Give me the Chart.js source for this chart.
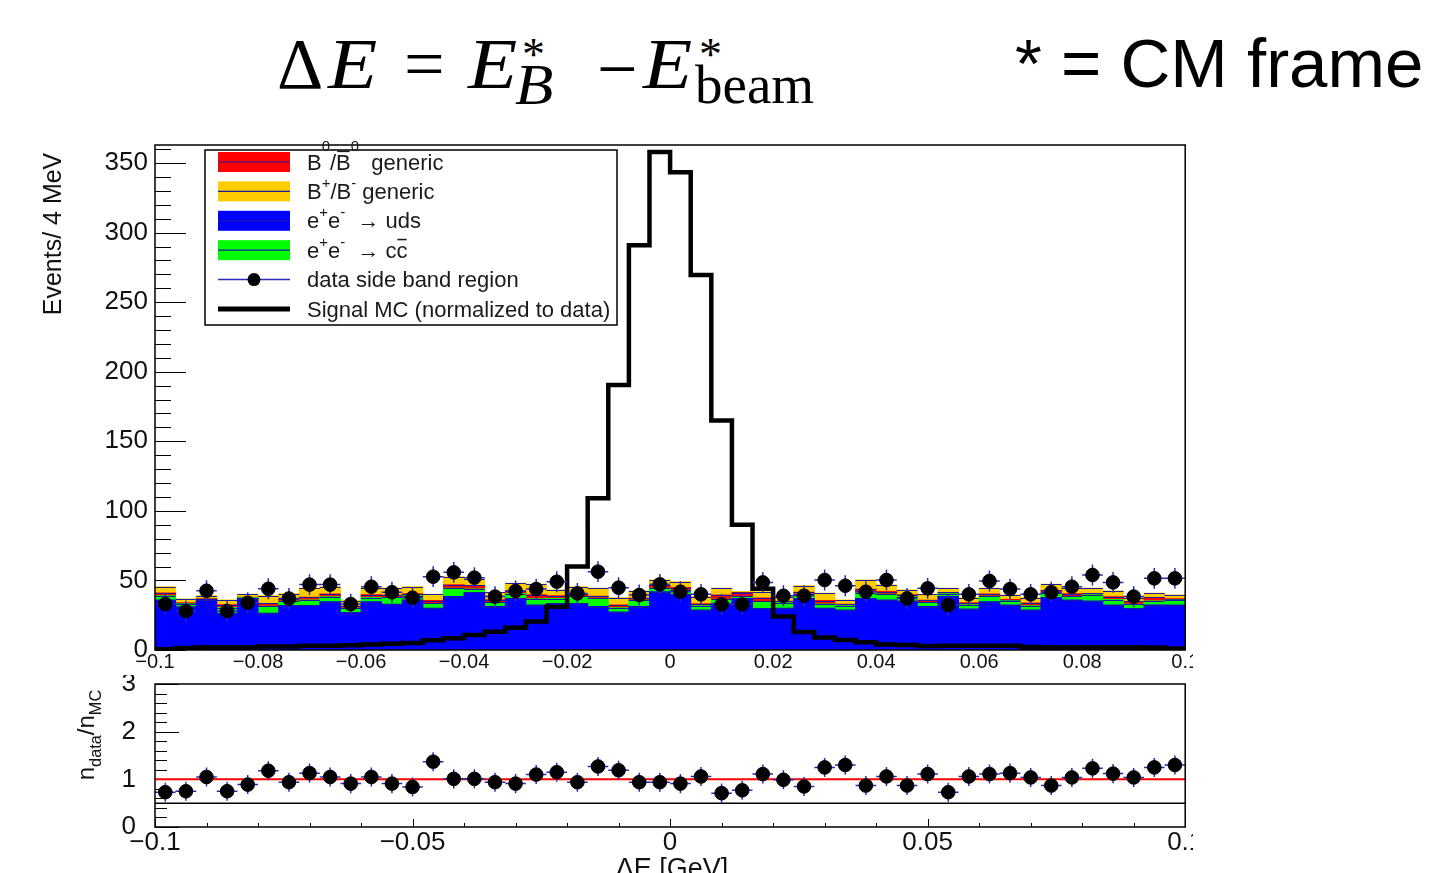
<!DOCTYPE html>
<html lang="en">
<head>
<meta charset="UTF-8" />
<title>Delta E side band distribution</title>
<script src="https://cdn.jsdelivr.net/npm/chart.js"></script>
<style>
  body {
    margin: 0;
    background: #fff;
    width: 1433px;
    height: 873px;
    overflow: hidden;
    position: relative;
    font-family: "Liberation Sans", Arial, sans-serif;
  }
  .hdr { position: absolute; line-height: 0; white-space: nowrap; color: #000; }
  .serif { font-family: "Liberation Serif", "DejaVu Serif", serif; }
  .it { font-style: italic; display: inline-block; transform: scaleX(1.12); transform-origin: left center; }
  canvas { position: absolute; left: 0; }
  #mainCanvas { top: 130px; }
  #ratioCanvas { top: 675px; }
</style>
</head>
<body>
  <!-- header: Delta E = E*_B - E*_beam     * = CM frame -->
  <span class="hdr serif" style="left:277px; top:64px; font-size:72px">&Delta;</span>
  <span class="hdr serif it" style="left:328px; top:64px; font-size:72px">E</span>
  <span class="hdr serif" style="left:404px; top:64px; font-size:72px">=</span>
  <span class="hdr serif it" style="left:468px; top:64px; font-size:72px">E</span>
  <span class="hdr serif" style="left:522px; top:55px; font-size:46px">*</span>
  <span class="hdr serif it" style="left:515px; top:85px; font-size:56px">B</span>
  <span class="hdr serif" style="left:597px; top:69px; font-size:72px">&minus;</span>
  <span class="hdr serif it" style="left:643px; top:64px; font-size:72px">E</span>
  <span class="hdr serif" style="left:699px; top:55px; font-size:46px">*</span>
  <span class="hdr serif" style="left:695px; top:85px; font-size:55px">beam</span>
  <span class="hdr" style="left:1015px; top:64px; font-size:69px">* = CM frame</span>

  <canvas id="mainCanvas" width="1193" height="545"></canvas>
  <canvas id="ratioCanvas" width="1193" height="198"></canvas>

<script>
// 50 bins of 4 MeV from -0.1 to 0.1 GeV
const binLow = -0.1;
const binWidth = 0.004;
const binHigh = 0.1;

// stacked MC backgrounds (events / bin), bottom to top
const udsMC = [36, 31, 36, 26.5, 37, 26.5, 32, 32, 34.7, 27, 34.7, 32.8, 36, 30, 38.4, 41.4, 31.2, 37.1, 32.3, 33.5,
  33.5, 31.2, 27.4, 31.2, 41.9, 39.9, 28.8, 33.5, 37, 29.9, 30, 37.1, 30, 28.8, 37.1, 36, 35.2, 31.2, 38.4, 29.5,
  34.7, 32.3, 28.8, 37.8, 36, 35.2, 32.3, 29.9, 32.3, 32.3];
const ccbarMC = [3, 2, 0.5, 4, 0.5, 5, 3, 4, 3.5, 3, 3, 5, 3, 3.5, 6, 2.5, 3, 3.5, 4.5, 3.5,
  5, 6, 3, 4.5, 2.5, 3, 3, 3, 1.5, 5, 4, 3, 3, 3, 4, 4, 3, 3, 2, 3,
  4, 3, 3, 3, 2.5, 4.5, 4, 3, 3, 3.5];
const b0MC = [2, 1, 0.5, 2, 0.5, 2, 1.5, 2, 2, 1.5, 2, 1.5, 1.5, 2, 2.5, 2.5, 2, 2, 3, 2,
  1.5, 1.5, 2, 1.5, 2, 2, 1.5, 3, 2.5, 2.5, 1, 1.5, 2.5, 1, 2.5, 2, 1.5, 1.5, 1, 1.5,
  1.5, 1, 2, 2, 2, 1, 2, 2, 2.5, 1];
const bpmMC = [4.5, 2.6, 2, 3.5, 2, 5.5, 4, 6.3, 5.3, 3.9, 5.1, 5, 5, 4.5, 5.8, 4.6, 5.2, 5.3, 7.4, 4.1,
  5.5, 5.6, 5.2, 5.2, 3.9, 4.1, 5.1, 4.8, 1, 4.5, 3.4, 4.6, 5.3, 3.2, 6.7, 4.7, 3.4, 4.2, 2.9, 3.6,
  4.1, 3.2, 3.8, 4.4, 3.8, 3.6, 4.1, 2.7, 3, 2.7];

// data in the side band region
const sideBandData = [33, 28, 42.6, 28, 34, 44, 37, 47, 47, 33, 45.5, 41.5, 37.6, 52.7, 55.8, 52, 38.4, 42.4, 43.8, 49.1,
  40.7, 56.3, 44.8, 39.5, 47.2, 41.9, 40, 32.8, 32.8, 48.6, 39, 39, 50.3, 46.2, 41.9, 50.3, 37.1, 44.3, 32.3, 40,
  49.6, 43.8, 40, 41.5, 45.5, 53.9, 48.6, 38.4, 51.5, 51.5];
const dataErr = 7.5;

// signal MC, normalized to data
const signalMC = [0.5, 1.5, 2, 2, 2, 2.5, 2.5, 3, 3, 3.5, 4, 4.5, 5, 7, 8.4, 10.8, 13.2, 16, 20.4, 31,
  60, 109, 190.5, 291, 358, 343.5, 269.6, 165, 90, 44, 24, 13, 9, 7.2, 5.5, 4, 3.6, 2.8, 3, 3,
  3, 3, 2.2, 2, 2, 2, 2, 2, 1.8, 1];

// n_data / n_MC
const ratio = [0.73, 0.75, 1.05, 0.75, 0.89, 1.18, 0.94, 1.13, 1.05, 0.91, 1.05, 0.91, 0.84, 1.37, 1.01, 1.01, 0.94, 0.91, 1.10, 1.15,
  0.94, 1.27, 1.19, 0.94, 0.94, 0.91, 1.06, 0.71, 0.77, 1.11, 0.99, 0.85, 1.25, 1.30, 0.87, 1.06, 0.87, 1.11, 0.73, 1.06,
  1.11, 1.13, 1.04, 0.87, 1.04, 1.23, 1.12, 1.04, 1.25, 1.30];
const ratioErr = 0.2;
const ratioRef = 1;
const ratioBase = 0.5;

const colors = { b0: '#ff0000', bpm: '#ffcc00', uds: '#0000ff', ccbar: '#00ff00', err: '#2a2ac0', outline: '#1a1aa0' };

const legendEntries = [
  { parts: [['B'], ['0', 'hsup'], ['/'], ['B', 'bar'], ['0', 'hsup'], ['  generic']], kind: 'fill', color: colors.b0 },
  { parts: [['B'], ['+', 'sup'], ['/B'], ['-', 'sup'], [' generic']], kind: 'fill', color: colors.bpm },
  { parts: [['e'], ['+', 'sup'], ['e'], ['-', 'sup'], ['  \u2192 uds']], kind: 'fill', color: colors.uds },
  { parts: [['e'], ['+', 'sup'], ['e'], ['-', 'sup'], ['  \u2192 c'], ['c', 'bar']], kind: 'fill', color: colors.ccbar },
  { parts: [['data side band region']], kind: 'marker' },
  { parts: [['Signal MC (normalized to data)']], kind: 'line' }
];

const fontFamily = '"Liberation Sans", Arial, Helvetica, sans-serif';
Chart.defaults.font.family = fontFamily;
Chart.defaults.color = '#111';

const binCenters = udsMC.map((_, i) => +(binLow + binWidth * (i + 0.5)).toFixed(4));
const pts = arr => arr.map((v, i) => ({ x: binCenters[i], y: v }));
const sigSteps = signalMC.map((v, i) => ({ x: +(binLow + binWidth * i).toFixed(4), y: v }))
  .concat([{ x: binHigh, y: signalMC[signalMC.length - 1] }]);

const fmtTick = v => (Math.abs(v) < 1e-9 ? '0' : (v < 0 ? '\u2212' : '') + String(+Math.abs(v).toFixed(3)));

// text with super/subscripts and overbars, drawn on a canvas
function drawRich(ctx, parts, x, y, size, draw = true) {
  let cx = x;
  parts.forEach(([t, kind]) => {
    const small = kind === 'sup' || kind === 'hsup' || kind === 'sub';
    const s = small ? size * 0.68 : size;
    ctx.font = s + 'px ' + fontFamily;
    const w = ctx.measureText(t).width;
    let dy = 0;
    if (kind === 'sup') dy = -size * 0.5;
    if (kind === 'hsup') dy = -size * 0.85;
    if (kind === 'sub') dy = size * 0.3;
    if (draw) {
      ctx.fillText(t, cx, y + dy);
      if (kind === 'bar') ctx.fillRect(cx + w * 0.08, y - size * 0.86, w * 0.84, Math.max(1, size * 0.07));
    }
    cx += w;
  });
  return cx - x;
}

// ROOT style frame: ticks inside, frame on top, axis titles
function makeRootAxes(cfg) {
  return {
    id: 'rootAxes',
    beforeDatasetsDraw(chart) {
      const { ctx, chartArea: a, scales: { x, y } } = chart;
      ctx.save();
      ctx.strokeStyle = '#000';
      ctx.lineWidth = 1;
      ctx.beginPath();
      const ny = Math.round((y.max - y.min) / cfg.yMinor);
      for (let k = 0; k <= ny; k++) {
        const py = Math.round(y.getPixelForValue(y.min + k * cfg.yMinor)) + 0.5;
        ctx.moveTo(a.left, py);
        ctx.lineTo(a.left + (k % cfg.yPerMajor === 0 ? cfg.yMajorLen : cfg.yMinorLen), py);
      }
      const nx = Math.round((x.max - x.min) / cfg.xMinor);
      for (let k = 0; k <= nx; k++) {
        const px = Math.round(x.getPixelForValue(x.min + k * cfg.xMinor)) + 0.5;
        ctx.moveTo(px, a.bottom);
        ctx.lineTo(px, a.bottom - (k % cfg.xPerMajor === 0 ? cfg.xMajorLen : cfg.xMinorLen));
      }
      ctx.stroke();
      ctx.restore();
    },
    afterDraw(chart) {
      const { ctx, chartArea: a } = chart;
      ctx.save();
      ctx.strokeStyle = '#000';
      ctx.lineWidth = 1.5;
      ctx.strokeRect(a.left, a.top, a.right - a.left, a.bottom - a.top);
      ctx.fillStyle = '#111';
      ctx.textBaseline = 'alphabetic';
      if (cfg.yTitle) {
        const t = cfg.yTitle;
        ctx.save();
        ctx.translate(t.x, t.y);
        ctx.rotate(-Math.PI / 2);
        const w = drawRich(ctx, t.parts, 0, 0, t.size, false);
        drawRich(ctx, t.parts, -w / 2, t.size * 0.36, t.size);
        ctx.restore();
      }
      if (cfg.xTitle) {
        const t = cfg.xTitle;
        const w = drawRich(ctx, t.parts, 0, 0, t.size, false);
        drawRich(ctx, t.parts, t.x - w / 2, t.y, t.size);
      }
      ctx.restore();
    }
  };
}

function makeErrorBars(cfg) {
  return {
    id: 'errorBars',
    beforeDatasetDraw(chart, args) {
      if (args.index !== cfg.index) return;
      const { ctx, scales: { x, y } } = chart;
      ctx.save();
      ctx.strokeStyle = colors.err;
      ctx.lineWidth = 1.5;
      ctx.beginPath();
      chart.data.datasets[cfg.index].data.forEach(p => {
        const px = x.getPixelForValue(p.x), py = y.getPixelForValue(p.y);
        ctx.moveTo(x.getPixelForValue(p.x - binWidth / 2), py);
        ctx.lineTo(x.getPixelForValue(p.x + binWidth / 2), py);
        ctx.moveTo(px, y.getPixelForValue(p.y + cfg.err));
        ctx.lineTo(px, y.getPixelForValue(p.y - cfg.err));
      });
      ctx.stroke();
      ctx.restore();
    }
  };
}

// thin dark outline along the top of each stacked layer, as ROOT draws it
function makeStackOutline(cfg) {
  return {
    id: 'stackOutline',
    afterDatasetDraw(chart, args) {
      if (args.index > cfg.lastBar) return;
      const ctx = chart.ctx;
      ctx.save();
      ctx.strokeStyle = colors.outline;
      ctx.lineWidth = 1;
      ctx.beginPath();
      args.meta.data.forEach(bar => {
        const half = bar.width / 2;
        const y = Math.round(bar.y) + 0.5;
        ctx.moveTo(bar.x - half, y);
        ctx.lineTo(bar.x + half, y);
      });
      ctx.stroke();
      ctx.restore();
    }
  };
}

const legendBox = {
  id: 'legendBox',
  afterDraw(chart) {
    const ctx = chart.ctx;
    const lg = { x0: 205, y0: 20, x1: 617, y1: 195, swX: 218, swW: 72, swH: 20, textX: 307, rowH: 29.4, first: 32, size: 22 };
    ctx.save();
    ctx.fillStyle = '#fff';
    ctx.fillRect(lg.x0, lg.y0, lg.x1 - lg.x0, lg.y1 - lg.y0);
    ctx.strokeStyle = '#000';
    ctx.lineWidth = 1.5;
    ctx.strokeRect(lg.x0, lg.y0, lg.x1 - lg.x0, lg.y1 - lg.y0);
    legendEntries.forEach((e, i) => {
      const cy = lg.first + i * lg.rowH;
      if (e.kind === 'fill') {
        ctx.fillStyle = e.color;
        ctx.fillRect(lg.swX, cy - lg.swH / 2, lg.swW, lg.swH);
        ctx.strokeStyle = colors.outline;
        ctx.lineWidth = 1.2;
        ctx.beginPath();
        ctx.moveTo(lg.swX, cy); ctx.lineTo(lg.swX + lg.swW, cy);
        ctx.stroke();
      } else if (e.kind === 'marker') {
        ctx.strokeStyle = colors.err;
        ctx.lineWidth = 1.5;
        ctx.beginPath();
        ctx.moveTo(lg.swX, cy); ctx.lineTo(lg.swX + lg.swW, cy);
        ctx.stroke();
        ctx.fillStyle = '#000';
        ctx.beginPath();
        ctx.arc(lg.swX + lg.swW / 2, cy, 6.5, 0, Math.PI * 2);
        ctx.fill();
      } else {
        ctx.strokeStyle = '#000';
        ctx.lineWidth = 5;
        ctx.beginPath();
        ctx.moveTo(lg.swX, cy); ctx.lineTo(lg.swX + lg.swW, cy);
        ctx.stroke();
      }
      ctx.fillStyle = '#1a1a1a';
      drawRich(ctx, e.parts, lg.textX, cy + 7.5, lg.size);
    });
    ctx.restore();
  }
};

const barStyle = {
  barPercentage: 1,
  categoryPercentage: 1,
  borderWidth: 0,
  inflateAmount: 0.5,
  order: 10
};

// y axes: fixed width, no extra label padding so the frame lands where ROOT put it
const fixY = s => { s.width = 155; s.paddingTop = 0; s.paddingBottom = 0; };

new Chart(document.getElementById('mainCanvas'), {
  type: 'bar',
  data: {
    datasets: [
      { label: 'e+e- -> uds', data: pts(udsMC), backgroundColor: colors.uds, ...barStyle },
      { label: 'e+e- -> ccbar', data: pts(ccbarMC), backgroundColor: colors.ccbar, ...barStyle },
      { label: 'B0/B0bar generic', data: pts(b0MC), backgroundColor: colors.b0, ...barStyle },
      { label: 'B+/B- generic', data: pts(bpmMC), backgroundColor: colors.bpm, ...barStyle },
      { type: 'line', label: 'Signal MC (normalized to data)', data: sigSteps, stepped: true,
        borderColor: '#000', borderWidth: 4.5, pointRadius: 0, fill: false, stack: 'signal', order: 5 },
      { type: 'line', label: 'data side band region', data: pts(sideBandData), showLine: false,
        pointRadius: 6.8, pointBackgroundColor: '#000', pointBorderColor: '#000', stack: 'data', order: 0 }
    ]
  },
  options: {
    responsive: false,
    animation: false,
    layout: { padding: { top: 15, right: 5, left: 0, bottom: 0 } },
    plugins: { legend: { display: false }, tooltip: { enabled: false } },
    scales: {
      x: {
        type: 'linear', min: binLow, max: binHigh, offset: false, stacked: true,
        grid: { display: false, drawTicks: false }, border: { display: false },
        ticks: { stepSize: 0.02, autoSkip: false, maxRotation: 0, padding: 0, font: { size: 20 }, callback: fmtTick },
        afterFit: s => { s.height = 25; s.paddingLeft = 0; s.paddingRight = 0; }
      },
      y: {
        min: 0, max: 363, stacked: true,
        grid: { display: false, drawTicks: false }, border: { display: false },
        ticks: { stepSize: 50, includeBounds: false, padding: 7, font: { size: 26 } },
        afterFit: fixY
      }
    }
  },
  plugins: [
    makeRootAxes({ yMinor: 10, yPerMajor: 5, yMajorLen: 31, yMinorLen: 16, xMinor: 0.01, xPerMajor: 2, xMajorLen: 10, xMinorLen: 5,
      yTitle: { parts: [['Events/ 4 MeV']], x: 52, y: 104, size: 25 } }),
    makeStackOutline({ lastBar: 3 }),
    makeErrorBars({ index: 5, err: dataErr }),
    legendBox
  ]
});

new Chart(document.getElementById('ratioCanvas'), {
  type: 'line',
  data: {
    datasets: [
      { label: 'n_data/n_MC', data: pts(ratio), showLine: false, pointRadius: 6.8,
        pointBackgroundColor: '#000', pointBorderColor: '#000', order: 0 },
      { label: 'ratio = 1', data: [{ x: binLow, y: ratioRef }, { x: binHigh, y: ratioRef }],
        borderColor: '#ff0000', borderWidth: 2, pointRadius: 0, order: 1 },
      { label: 'ratio = 0.5', data: [{ x: binLow, y: ratioBase }, { x: binHigh, y: ratioBase }],
        borderColor: '#000', borderWidth: 1.5, pointRadius: 0, order: 2 }
    ]
  },
  options: {
    responsive: false,
    animation: false,
    layout: { padding: { top: 9, right: 5, left: 0, bottom: 0 } },
    plugins: { legend: { display: false }, tooltip: { enabled: false } },
    scales: {
      x: {
        type: 'linear', min: binLow, max: binHigh, offset: false,
        grid: { display: false, drawTicks: false }, border: { display: false },
        ticks: { stepSize: 0.05, autoSkip: false, maxRotation: 0, padding: 0, font: { size: 26 }, callback: fmtTick },
        afterFit: s => { s.height = 46; s.paddingLeft = 0; s.paddingRight = 0; }
      },
      y: {
        min: 0, max: 3,
        grid: { display: false, drawTicks: false }, border: { display: false },
        ticks: { stepSize: 1, padding: 19, font: { size: 26 } },
        afterFit: fixY
      }
    }
  },
  plugins: [
    makeRootAxes({ yMinor: 0.2, yPerMajor: 5, yMajorLen: 24, yMinorLen: 12, xMinor: 0.01, xPerMajor: 5, xMajorLen: 8, xMinorLen: 4,
      yTitle: { parts: [['n'], ['data', 'sub'], ['/n'], ['MC', 'sub']], x: 85, y: 60, size: 24 },
      xTitle: { parts: [['\u0394E [GeV]']], x: 672, y: 202, size: 27 } }),
    makeErrorBars({ index: 0, err: ratioErr })
  ]
});
</script>
</body>
</html>
